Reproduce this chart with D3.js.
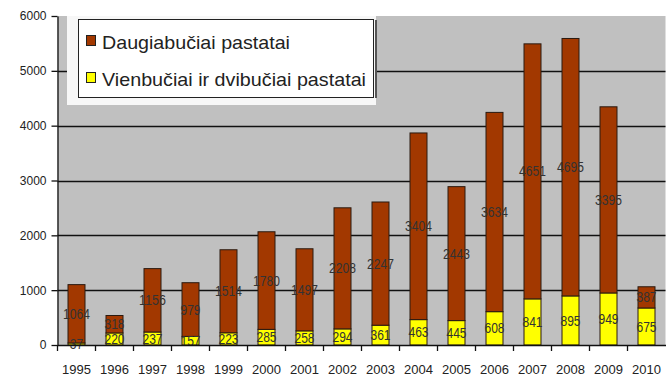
<!DOCTYPE html>
<html>
<head>
<meta charset="utf-8">
<script src="https://cdn.jsdelivr.net/npm/d3@7"></script>
<style>
  html, body { margin: 0; padding: 0; background: #fff; }
  svg { display: block; font-family: "Liberation Sans", Arial, sans-serif; }
</style>
</head>
<body>
<svg id="chart" width="666" height="378"></svg>
<script>
// Building completions by year: multi-apartment vs. one/two-apartment buildings
const years = ["1995","1996","1997","1998","1999","2000","2001","2002","2003","2004","2005","2006","2007","2008","2009","2010"];
const vienbuciai = [37, 220, 237, 157, 223, 285, 258, 294, 361, 463, 445, 608, 841, 895, 949, 675];
const daugiabuciai = [1064, 318, 1156, 979, 1514, 1780, 1497, 2208, 2247, 3404, 2443, 3634, 4651, 4695, 3395, 387];
const yTicks = [0, 1000, 2000, 3000, 4000, 5000, 6000];
const seriesNames = ["Daugiabučiai pastatai", "Vienbučiai ir dvibučiai pastatai"];
const seriesColors = ["#A23800", "#FFFF00"];

const svg = d3.select("#chart");
const plotLeft = 57.5, plotRight = 665.5, plotTop = 16, plotBottom = 345;

const x = d3.scaleBand().domain(years).range([plotLeft, plotRight]).padding(0);
const y = d3.scaleLinear().domain([0, 6000]).range([plotBottom, plotTop]);
const barW = 17;

// plot area
svg.append("rect")
  .attr("x", plotLeft).attr("y", plotTop)
  .attr("width", plotRight - plotLeft).attr("height", plotBottom - plotTop)
  .attr("fill", "#C0C0C0");

// horizontal gridlines
svg.append("g")
  .selectAll("line")
  .data(yTicks.filter(d => d > 0 && d < 6000))
  .join("line")
  .attr("x1", plotLeft).attr("x2", plotRight)
  .attr("y1", d => Math.round(y(d)) + 0.5).attr("y2", d => Math.round(y(d)) + 0.5)
  .attr("stroke", "#111").attr("stroke-width", 1.3);

// stacked rows
const rows = years.map((yr, i) => ({ year: yr, v: vienbuciai[i], d: daugiabuciai[i] }));
const stack = d3.stack().keys(["v", "d"])(rows);
const colorOf = { v: seriesColors[1], d: seriesColors[0] };

const layers = svg.append("g")
  .selectAll("g")
  .data(stack)
  .join("g")
  .attr("fill", s => colorOf[s.key]);

layers.selectAll("rect")
  .data(s => s)
  .join("rect")
  .attr("x", p => x(p.data.year) + x.bandwidth() / 2 - barW / 2)
  .attr("width", barW)
  .attr("y", p => y(p[1]))
  .attr("height", p => y(p[0]) - y(p[1]))
  .attr("stroke", "#2a1a10")
  .attr("stroke-width", 1);

// value labels centred in each segment
const labels = svg.append("g")
  .attr("font-size", 14)
  .attr("fill", "#333")
  .attr("text-anchor", "middle");

stack.forEach(s => {
  labels.selectAll(null)
    .data(s)
    .join("text")
    .attr("x", p => x(p.data.year) + x.bandwidth() / 2)
    .attr("y", p => y((p[0] + p[1]) / 2))
    .attr("dy", "0.36em")
    .attr("textLength", p => String(p.data[s.key]).length * 6.7)
    .attr("lengthAdjust", "spacingAndGlyphs")
    .text(p => p.data[s.key]);
});

// y axis
const yAxis = svg.append("g")
  .attr("transform", `translate(${plotLeft},0)`)
  .call(d3.axisLeft(y).tickValues(yTicks).tickFormat(d3.format("d"))
    .tickSize(6).tickPadding(5).tickSizeOuter(0));
yAxis.select(".domain").attr("stroke", "#111").attr("stroke-width", 1.3);
yAxis.selectAll(".tick line").attr("stroke", "#111").attr("stroke-width", 1.3);
yAxis.selectAll("text")
  .attr("font-size", 12)
  .attr("fill", "#222")
  .attr("font-family", "Liberation Sans, Arial, sans-serif");

// x axis with ticks between categories
const xAxis = svg.append("g")
  .attr("transform", `translate(0,${plotBottom})`)
  .call(d3.axisBottom(x).tickSize(0).tickPadding(20).tickSizeOuter(0));
xAxis.select(".domain").attr("stroke", "#111").attr("stroke-width", 1.3);
xAxis.selectAll("text")
  .attr("font-size", 13)
  .attr("fill", "#222")
  .attr("font-family", "Liberation Sans, Arial, sans-serif");
svg.append("g")
  .selectAll("line")
  .data(years)
  .join("line")
  .attr("x1", d => x(d)).attr("x2", d => x(d))
  .attr("y1", plotBottom).attr("y2", plotBottom + 6)
  .attr("stroke", "#111").attr("stroke-width", 1.3);

// legend
const lg = svg.append("g");
lg.append("rect")
  .attr("x", 67).attr("y", 16).attr("width", 309).attr("height", 89)
  .attr("fill", "#F7F7F7");
lg.append("rect")
  .attr("x", 375).attr("y", 20).attr("width", 2).attr("height", 78)
  .attr("fill", "#555");
lg.append("rect")
  .attr("x", 78.5).attr("y", 19.5).attr("width", 295).attr("height", 78)
  .attr("fill", "#fff").attr("stroke", "#222").attr("stroke-width", 1);

const legendRows = [
  { name: seriesNames[0], color: seriesColors[0], baseline: 49, width: 188 },
  { name: seriesNames[1], color: seriesColors[1], baseline: 86, width: 264 }
];
legendRows.forEach(r => {
  lg.append("rect")
    .attr("x", 86.5).attr("y", r.baseline - 13.5)
    .attr("width", 9).attr("height", 10)
    .attr("fill", r.color).attr("stroke", "#222").attr("stroke-width", 1);
  lg.append("text")
    .attr("x", 102).attr("y", r.baseline)
    .attr("font-size", 19)
    .attr("fill", "#222")
    .attr("textLength", r.width)
    .attr("lengthAdjust", "spacingAndGlyphs")
    .text(r.name);
});
</script>
</body>
</html>
